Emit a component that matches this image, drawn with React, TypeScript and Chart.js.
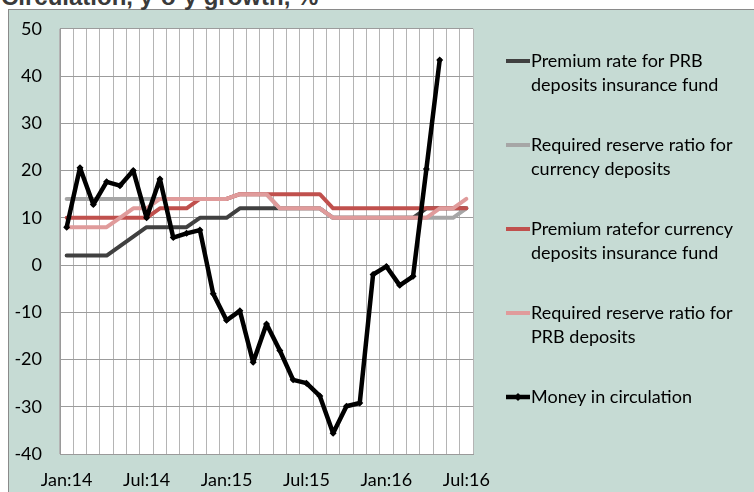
import React, { useEffect, useRef } from "react";
import { Chart, registerables } from "chart.js";
Chart.register(...registerables);

const months = [
  "Jan:14", "Feb:14", "Mar:14", "Apr:14", "May:14", "Jun:14", "Jul:14", "Aug:14", "Sep:14", "Oct:14", "Nov:14", "Dec:14",
  "Jan:15", "Feb:15", "Mar:15", "Apr:15", "May:15", "Jun:15", "Jul:15", "Aug:15", "Sep:15", "Oct:15", "Nov:15", "Dec:15",
  "Jan:16", "Feb:16", "Mar:16", "Apr:16", "May:16", "Jun:16", "Jul:16",
];

const premiumPRB = [2, 2, 2, 2, 4, 6, 8, 8, 8, 8, 10, 10, 10, 12, 12, 12, 12, 12, 12, 12, 10, 10, 10, 10, 10, 10, 10, 12, 12, 12, 12];
const reserveCurrency = [14, 14, 14, 14, 14, 14, 14, 14, 14, 14, 14, 14, 14, 15, 15, 15, 12, 12, 12, 12, 10, 10, 10, 10, 10, 10, 10, 10, 10, 10, 12];
const premiumCurrency = [10, 10, 10, 10, 10, 10, 10, 12, 12, 12, 14, 14, 14, 15, 15, 15, 15, 15, 15, 15, 12, 12, 12, 12, 12, 12, 12, 12, 12, 12, 12];
const reservePRB = [8, 8, 8, 8, 10, 12, 12, 14, 14, 14, 14, 14, 14, 15, 15, 15, 12, 12, 12, 12, 10, 10, 10, 10, 10, 10, 10, 10, 12, 12, 14];
const moneyInCirculation = [
  8, 20.6, 12.8, 17.6, 16.8, 20, 10, 18.2, 5.8, 6.7, 7.4, -6.1,
  -11.7, -9.7, -20.6, -12.5, -18.1, -24.3, -25, -27.7, -35.6, -29.9, -29.2, -2,
  -0.3, -4.3, -2.4, 20.3, 43.4, null, null,
];

const legendLabels = [
  ["Premium rate for PRB", "deposits insurance fund"],
  ["Required reserve ratio for", "currency deposits"],
  ["Premium ratefor currency", "deposits insurance fund"],
  ["Required reserve ratio for", "PRB deposits"],
  ["Money in circulation"],
];

const FONT = "Lato";

const plotBg = {
  id: "plotBg",
  beforeDraw(chart: any) {
    const { ctx, chartArea } = chart;
    ctx.save();
    ctx.fillStyle = "#ffffff";
    ctx.fillRect(chartArea.left, chartArea.top, chartArea.right - chartArea.left, chartArea.bottom - chartArea.top);
    ctx.restore();
  },
};

const sideLegend = {
  id: "sideLegend",
  afterDraw(chart: any) {
    const { ctx } = chart;
    const x0 = 506;
    const x1 = 530;
    const firstY = 61;
    const step = 84;
    const lineGap = 24;
    ctx.save();
    ctx.font = `18px ${FONT}`;
    ctx.textBaseline = "middle";
    ctx.textAlign = "left";
    chart.data.datasets.forEach((ds: any, i: number) => {
      const y = firstY + i * step;
      ctx.strokeStyle = ds.borderColor;
      ctx.lineWidth = ds.borderWidth;
      ctx.lineCap = "butt";
      ctx.beginPath();
      ctx.moveTo(x0, y);
      ctx.lineTo(x1, y);
      ctx.stroke();
      if (ds.pointRadius > 0) {
        const r = 4;
        const cx = (x0 + x1) / 2;
        ctx.fillStyle = ds.borderColor;
        ctx.beginPath();
        ctx.moveTo(cx, y - r);
        ctx.lineTo(cx + r, y);
        ctx.lineTo(cx, y + r);
        ctx.lineTo(cx - r, y);
        ctx.closePath();
        ctx.fill();
      }
      ctx.fillStyle = "#000000";
      (ds.legendLines as string[]).forEach((t, k) => {
        ctx.fillText(t, x1 + 1, y + k * lineGap);
      });
    });
    ctx.restore();
  },
};

export default function App() {
  const ref = useRef<HTMLCanvasElement>(null);
  useEffect(() => {
    const common = {
      pointRadius: 0,
      tension: 0,
      borderWidth: 4,
      borderCapStyle: "round",
      borderJoinStyle: "round",
      fill: false,
    };
    const chart = new Chart(ref.current!, {
      type: "line",
      data: {
        labels: months,
        datasets: [
          { ...common, label: legendLabels[0].join(" "), legendLines: legendLabels[0], data: premiumPRB, borderColor: "#404040", order: 5 },
          { ...common, label: legendLabels[1].join(" "), legendLines: legendLabels[1], data: reserveCurrency, borderColor: "#a6a6a6", order: 4 },
          { ...common, label: legendLabels[2].join(" "), legendLines: legendLabels[2], data: premiumCurrency, borderColor: "#c0504d", order: 3 },
          { ...common, label: legendLabels[3].join(" "), legendLines: legendLabels[3], data: reservePRB, borderColor: "#e09b9b", order: 2 },
          {
            ...common,
            label: legendLabels[4].join(" "),
            legendLines: legendLabels[4],
            data: moneyInCirculation,
            borderColor: "#000000",
            backgroundColor: "#000000",
            borderWidth: 4.5,
            pointRadius: 3.5,
            pointStyle: "rectRot",
            pointBorderWidth: 0,
            order: 1,
          },
        ] as any,
      },
      options: {
        responsive: false,
        animation: false,
        devicePixelRatio: 1,
        layout: { padding: { left: 0, right: 281, top: 25, bottom: 0 } },
        plugins: { legend: { display: false }, tooltip: { enabled: false } },
        scales: {
          x: {
            type: "category",
            offset: true,
            grid: { offset: true, color: "#b4b4b4", lineWidth: 1, drawTicks: false },
            border: { color: "#9a9a9a", width: 1 },
            ticks: {
              autoSkip: false,
              maxRotation: 0,
              minRotation: 0,
              padding: 15,
              color: "#000000",
              font: { family: FONT, size: 18 },
              callback: (_v: any, i: number) => (i % 6 === 0 ? months[i] : ""),
            },
            afterFit: (s: any) => {
              s.height = 38;
            },
          },
          y: {
            min: -40,
            max: 50,
            grid: { color: "#9c9c9c", lineWidth: 1, drawTicks: false },
            border: { color: "#9a9a9a", width: 1 },
            ticks: {
              stepSize: 10,
              padding: 18,
              color: "#000000",
              font: { family: FONT, size: 18 },
            },
            afterFit: (s: any) => {
              s.width = 60;
            },
          },
        },
      } as any,
      plugins: [plotBg, sideLegend],
    });
    return () => chart.destroy();
  }, []);

  return (
    <div style={{ position: "absolute", left: 0, top: 0, width: 754, height: 492, overflow: "hidden" }}>
      <div
        style={{
          position: "absolute",
          left: 8,
          top: 9,
          width: 746,
          height: 483,
          background: "#c6dbd4",
          borderTop: "1px solid #8a8a8a",
          borderLeft: "1px solid #8a8a8a",
          boxSizing: "border-box",
        }}
      />
      <div
        style={{
          position: "absolute",
          left: 1,
          top: -15,
          font: 'bold 24px "Liberation Sans"',
          lineHeight: "24px",
          color: "#3a3a3a",
          whiteSpace: "nowrap",
        }}
      >
        Circulation, y-o-y growth, %
      </div>
      <canvas ref={ref} width={754} height={492} style={{ position: "absolute", left: 0, top: 0, width: 754, height: 492 }} />
    </div>
  );
}
